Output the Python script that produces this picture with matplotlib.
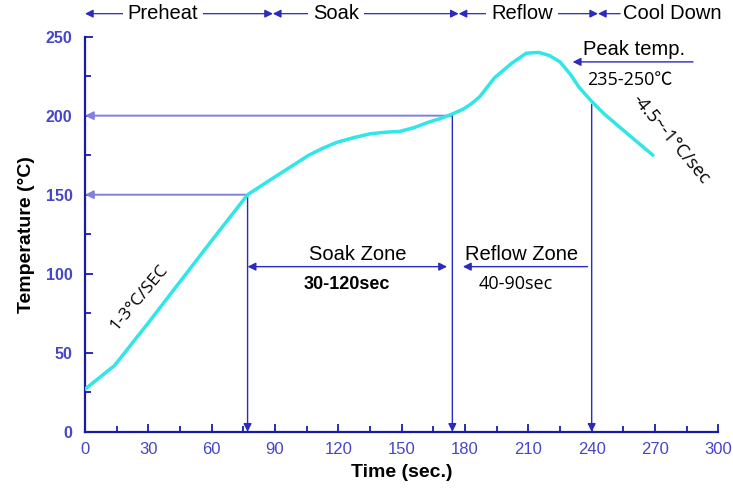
import numpy as np
import matplotlib
matplotlib.use('Agg')
from matplotlib import pyplot as plt
from matplotlib.ticker import MultipleLocator

# reflow profile
time_s = [0, 14, 30, 45, 60, 77, 85, 92, 99, 106, 112, 119, 127, 135, 142, 149, 156, 163, 168, 173, 179, 183, 187, 194, 202, 209, 215, 220, 225, 230, 234, 240, 246, 253, 261, 269]
temp_c = [27, 42, 69, 95, 121, 150, 157, 163, 169, 175, 179, 183, 186, 188.5, 189.5, 190, 192.5, 196, 198, 200.5, 204, 207.5, 212, 224, 233, 239.5, 240, 238, 234, 226, 218, 209, 201, 193, 184, 175]

phase_names = ['Preheat', 'Soak', 'Reflow', 'Cool Down']
phase_edges = [0, 89, 177, 243]
phase_text_x = [37, 119, 207, 255]

soak_start, soak_end, reflow_end = 77, 174, 240
soak_temp, reflow_temp, reflow_end_temp = 150, 200, 207
peak_temp_line = 234

cyan = '#30e6e6'
blue = '#2a2ac0'
light_blue = '#8080e0'
tick_blue = '#4646c8'

plt.rcParams['font.family'] = ['Liberation Sans', 'DejaVu Sans']

fig = plt.figure(figsize=(7.33, 4.88), dpi=100)
ax = fig.add_axes([0.116, 0.115, 0.864, 0.81])

ax.plot(time_s, temp_c, color=cyan, lw=2.5, zorder=3,
        solid_capstyle='round', solid_joinstyle='round')

ax.set_xlim(0, 300)
ax.set_ylim(0, 250)
ax.xaxis.set_major_locator(MultipleLocator(30))
ax.xaxis.set_minor_locator(MultipleLocator(15))
ax.yaxis.set_major_locator(MultipleLocator(50))
ax.yaxis.set_minor_locator(MultipleLocator(25))
ax.tick_params(which='both', direction='in', color='#1a1aa8', width=1.3)
ax.tick_params(which='major', length=6)
ax.tick_params(which='minor', length=4)
ax.tick_params(axis='x', labelsize=12, labelcolor=tick_blue, pad=7)
ax.tick_params(axis='y', labelsize=11.5, labelcolor=tick_blue, pad=9)
for lab in ax.get_yticklabels():
    lab.set_fontweight('bold')
for s in ['top', 'right']:
    ax.spines[s].set_visible(False)
for s in ['left', 'bottom']:
    ax.spines[s].set_color('#1a1aa8')
    ax.spines[s].set_linewidth(1.6)

ax.set_xlabel('Time (sec.)', fontsize=14, fontweight='bold', labelpad=5)
ax.set_ylabel('Temperature (\u00b0C)', fontsize=14, fontweight='bold', labelpad=8)


def arrow(x0, y0, x1, y1, style='-|>', color=blue, lw=1.0):
    ax.annotate('', xy=(x1, y1), xytext=(x0, y0),
                arrowprops=dict(arrowstyle=style, color=color, lw=lw,
                                mutation_scale=12, shrinkA=0, shrinkB=0),
                annotation_clip=False, zorder=2)


# guide lines down to the axes
arrow(soak_start, soak_temp, 0, soak_temp, color=light_blue, lw=1.4)
arrow(soak_end, reflow_temp, 0, reflow_temp, color=light_blue, lw=1.4)
arrow(soak_start, soak_temp, soak_start, 0)
arrow(soak_end, reflow_temp, soak_end, 0)
arrow(reflow_end, reflow_end_temp, reflow_end, 0)

# zone arrows
arrow(soak_start, 104.5, soak_end - 2.5, 104.5, style='<|-|>')
arrow(reflow_end - 2, 104.5, soak_end + 5, 104.5)
arrow(288, peak_temp_line, 231, peak_temp_line)

zone_font = ['Open Sans', 'Noto Sans CJK SC', 'DejaVu Sans']
ax.text(129, 112, 'Soak Zone', fontsize=14.5, ha='center', va='center')
ax.text(124, 93.5, '30-120sec', fontsize=13, fontweight='semibold', ha='center', va='center')
ax.text(180, 112, 'Reflow Zone', fontsize=14.5, ha='left', va='center')
ax.text(204, 93.5, '40-90sec', fontsize=13, ha='center', va='center', family=zone_font)
ax.text(260, 242, 'Peak temp.', fontsize=14.5, ha='center', va='center')
ax.text(258, 222.5, '235-250\u2103', fontsize=13, ha='center', va='center', family=zone_font)
ax.text(277.5, 185, '-4.5~-1\u00b0C/sec', fontsize=13, ha='center', va='center',
        rotation=-50, rotation_mode='anchor', family=zone_font)
ax.text(25.5, 85, '1-3\u00b0C/SEC', fontsize=12.5, ha='center', va='center',
        rotation=50, rotation_mode='anchor', family=zone_font)

# phase arrows above the plot
top_y = 264.5
for i in range(3):
    arrow(phase_edges[i], top_y, phase_edges[i + 1], top_y, style='<|-|>', lw=0.9)
    ax.text(phase_text_x[i], top_y, phase_names[i], fontsize=14.5, ha='center', va='center',
            bbox=dict(facecolor='white', edgecolor='none', pad=3.5), zorder=4, clip_on=False)
arrow(phase_text_x[3] - 1.5, top_y, phase_edges[3], top_y, lw=0.9)
ax.text(phase_text_x[3], top_y, phase_names[3], fontsize=14.5, ha='left', va='center',
        clip_on=False)

fig.savefig('out.png', dpi=100)
